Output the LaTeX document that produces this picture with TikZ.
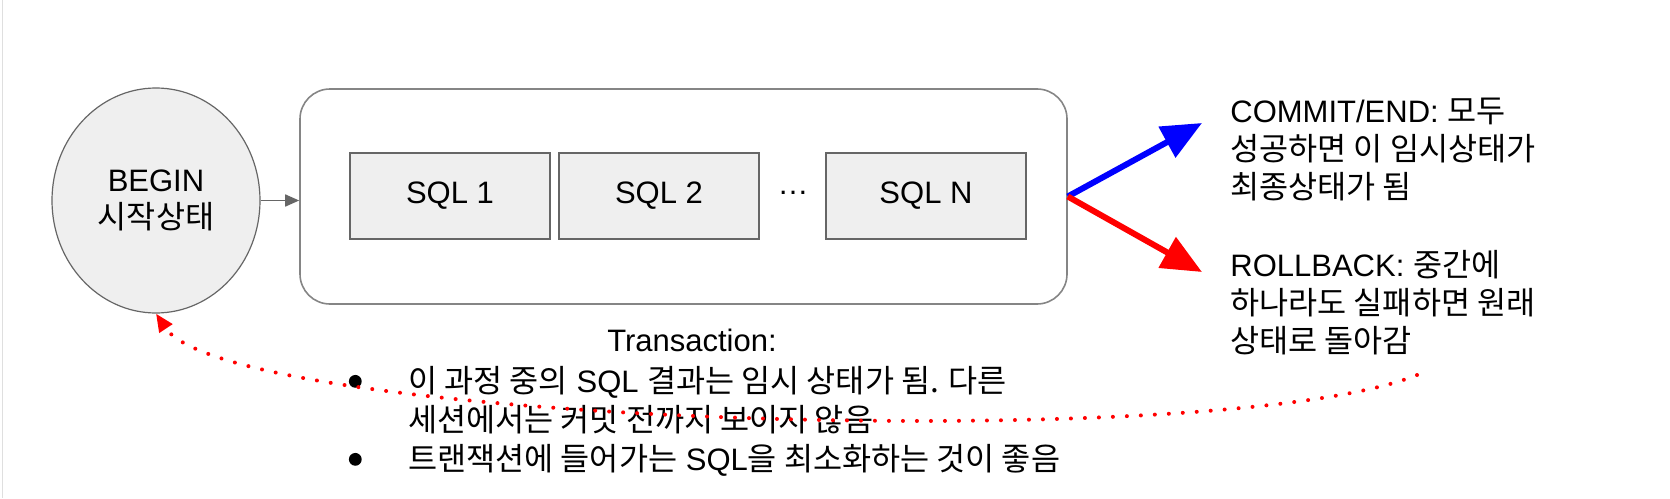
\documentclass[tikz,border=0pt]{standalone}
\usepackage{fontspec}
\setmainfont{Liberation Sans}
\newfontfamily\krfont[Scale=1.02]{Noto Sans CJK KR}
\newcommand{\kr}[1]{{\krfont #1}}
\usepackage{tikz}
\usetikzlibrary{positioning, arrows.meta, shapes.geometric}
\usepackage{xcolor}
\definecolor{boxgray}{HTML}{EFEFEF}
\definecolor{linegray}{HTML}{666666}
\definecolor{commitblue}{HTML}{0000FF}
\definecolor{rollred}{HTML}{FF0000}
\newcommand{\blt}{\raisebox{2.4pt}{\tikz\fill (0,0) circle (3.2pt);}}

\begin{document}
\begin{tikzpicture}[
    x=0.5pt, y=-0.5pt,
    every node/.style={font=\fontsize{15.5pt}{18.5pt}\selectfont},
    state/.style={ellipse, draw=linegray, fill=boxgray, line width=0.6pt, minimum width=104pt, minimum height=112.5pt, inner sep=0pt, align=center},
    txn/.style={rectangle, draw=linegray!80, rounded corners=15pt, line width=0.8pt, minimum width=383.5pt, minimum height=107.5pt},
    sqlbox/.style={rectangle, draw=linegray, fill=boxgray, line width=0.6pt, minimum width=100pt, minimum height=43pt},
    outcome/.style={anchor=north west, align=left, inner sep=0pt, font=\fontsize{15.5pt}{19pt}\selectfont},
    notes/.style={anchor=north west, align=left, inner sep=0pt, font=\fontsize{15.5pt}{19.5pt}\selectfont},
    arr/.style={-{Triangle[length=7pt, width=6pt]}, line width=0.8pt, draw=linegray},
    okarr/.style={-{Triangle[length=20pt, width=17pt]}, line width=3pt, draw=commitblue},
    failarr/.style={-{Triangle[length=20pt, width=17pt]}, line width=3pt, draw=rollred},
    backarr/.style={-{Triangle[length=9pt, width=7.5pt]}, line width=2pt, draw=rollred, line cap=round, dash pattern=on 0pt off 7pt}
]
    \useasboundingbox (0,0) rectangle (1670,498);
    \draw[gray!25, line width=0.5pt] (2,0) -- (2,498);

    \node[state] (begin) at (156,200.5) {BEGIN\\\kr{시작상태}};

    \node[txn] (txn) at (683.5,196.5) {};
    \node[sqlbox] (sql1) at (450,196) {SQL 1};
    \node[sqlbox] (sql2) at (659,196) {SQL 2};
    \node (dots) at (793,193) {…};
    \node[sqlbox] (sqln) at (926,196) {SQL N};

    \node[outcome] (commit) at (1230,98) {COMMIT/END: \kr{모두}\\\kr{성공하면 이 임시상태가}\\\kr{최종상태가 됨}};
    \node[outcome] (rollback) at (1230,250) {ROLLBACK: \kr{중간에}\\\kr{하나라도 실패하면 원래}\\\kr{상태로 돌아감}};

    \node (title) at (692,340) {Transaction:};
    \node[notes] (notes) at (348.5,366) {\makebox[29.75pt][l]{\blt}\kr{이 과정 중의} SQL \kr{결과는 임시 상태가 됨. 다른}\\
        \hspace*{29.75pt}\kr{세션에서는 커밋 전까지 보이지 않음}\\
        \makebox[29.75pt][l]{\blt}\kr{트랜잭션에 들어가는} SQL\kr{을 최소화하는 것이 좋음}};

    \coordinate (okend) at (1202,123);
    \coordinate (failend) at (1202,272);
    \coordinate (undo) at (1417,375);

    \draw[arr] (begin.east) -- (begin.east -| txn.west);
    \draw[okarr] (txn.east) -- (okend);
    \draw[failarr] (txn.east) -- (failend);
    \draw[backarr] (undo) .. controls (1220,455) and (230,425) .. (begin.south);
\end{tikzpicture}
\end{document}
